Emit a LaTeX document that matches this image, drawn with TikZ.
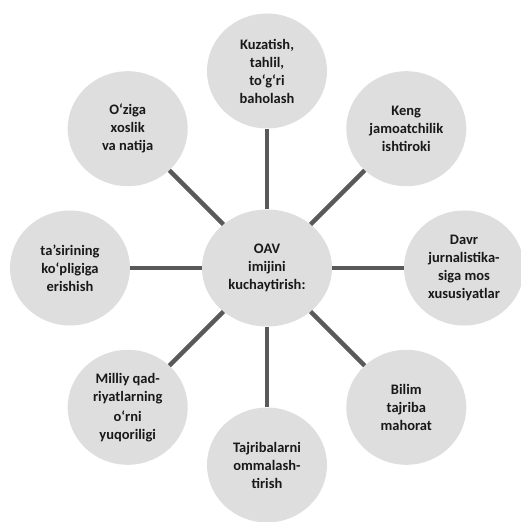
\documentclass[tikz,border=0pt]{standalone}
\usepackage{fontspec}
\setmainfont{Carlito}
\usetikzlibrary{shapes.geometric,positioning}

\tikzstyle{bubble}=[ellipse,fill=black!13,text=black!90,align=center,font=\bfseries\fontsize{14.5}{18}\selectfont,minimum width=#1,minimum height=115pt,inner sep=0pt]
\tikzstyle{spoke}=[draw=black!65,line width=4.5pt]
\newcommand{\topic}[3]{\node[bubble=120pt,#2] (#1) {#3};}
\newcommand{\mylink}[1]{ \draw[spoke] (oav) -- (#1);}

\begin{document}
\begin{tikzpicture}[node distance=197pt]
    \useasboundingbox (-267pt,-254pt) rectangle (254pt,268pt);
    % hub in the middle, eight topics round it
    \node[bubble=130pt,minimum height=117pt] (oav) {OAV\\imijini\\kuchaytirish:};
    \topic{kuz}{above of=oav}{Kuzatish,\\tahlil,\\to‘g‘ri\\baholash}
    \topic{ozi}{above left of=oav}{O‘ziga\\xoslik\\va natija}
    \topic{keng}{above right of=oav}{Keng\\jamoatchilik\\ishtiroki}
    \topic{tas}{left of=oav}{ta’sirining\\ko‘pligiga\\erishish}
    \topic{davr}{right of=oav}{Davr\\jurnalistika-\\siga mos\\xususiyatlar}
    \topic{mil}{below left of=oav}{Milliy qad-\\riyatlarning\\[2pt]o‘rni\\yuqoriligi}
    \topic{taj}{below of=oav}{Tajribalarni\\ommalash-\\tirish}
    \topic{bil}{below right of=oav}{Bilim\\tajriba\\mahorat}

    \foreach \t in {kuz,ozi,keng,tas,davr,mil,taj,bil}
        {\mylink{\t}}
\end{tikzpicture}
\end{document}
